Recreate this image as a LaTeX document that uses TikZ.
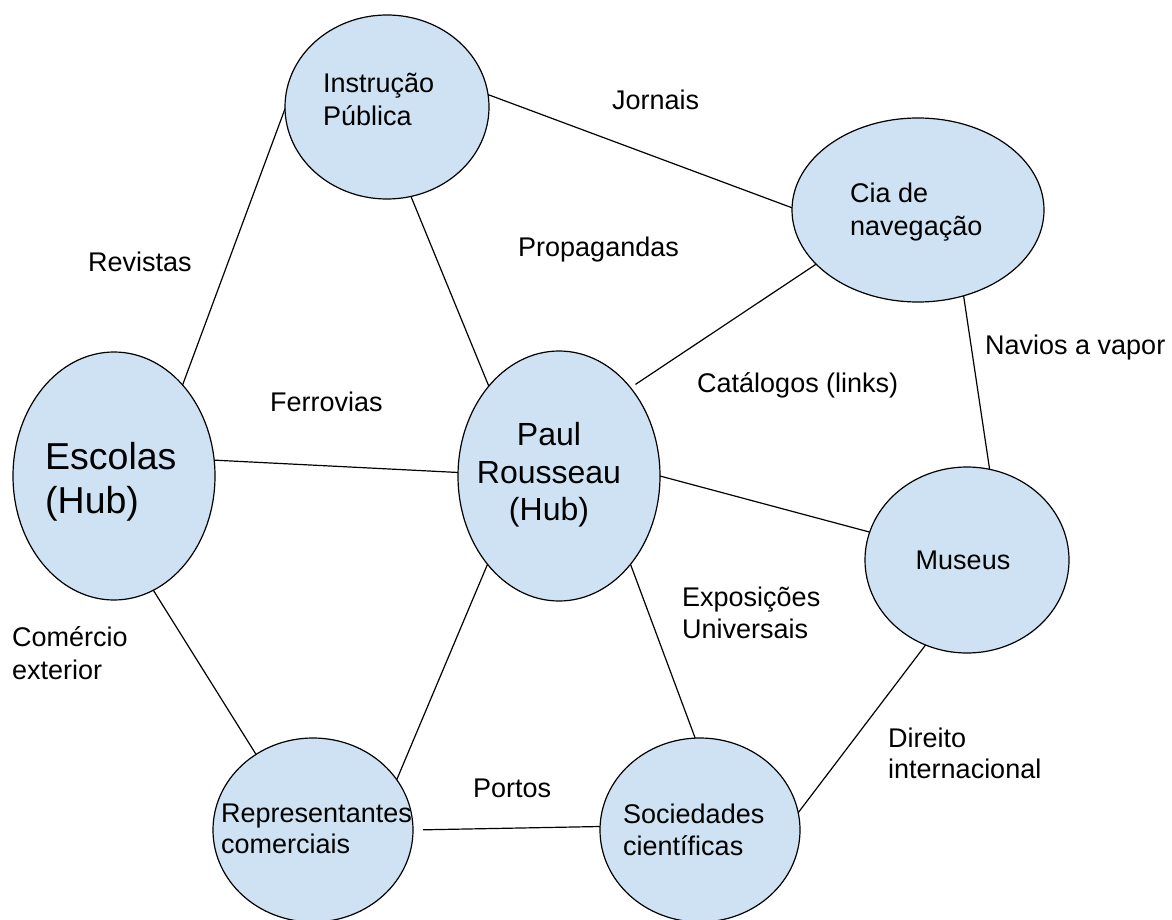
\documentclass[tikz,border=0pt]{standalone}
\usepackage{fontspec}
\setmainfont{Liberation Sans}
\usetikzlibrary{shapes.geometric}
\definecolor{bubble}{HTML}{CFE2F3}
\begin{document}
\begin{tikzpicture}[x=1pt,y=-1pt,
  bub/.style={ellipse, draw=black, fill=bubble, line width=1.2pt, inner sep=0pt, outer sep=0pt},
  conn/.style={draw=black, line width=1.2pt},
  lbl/.style={font=\fontsize{27}{32}\selectfont, inner sep=0pt, text=black},
  big/.style={font=\fontsize{37.5}{44}\selectfont, inner sep=0pt, text=black},
  mid/.style={font=\fontsize{32}{38}\selectfont, inner sep=0pt, text=black}]
\useasboundingbox (0,0) rectangle (1172,920);
\fill[white] (0,0) rectangle (1172,920);

% bubbles
\node[bub, minimum width=204pt, minimum height=184pt] (instr) at (387,107) {};
\node[bub, minimum width=252pt, minimum height=184pt] (cia) at (918,210) {};
\node[bub, minimum width=202pt, minimum height=248pt] (esc) at (114,476) {};
\node[bub, minimum width=202pt, minimum height=250pt] (paul) at (559,476) {};
\node[bub, minimum width=204pt, minimum height=186pt] (mus) at (967,560) {};
\node[bub, minimum width=200pt, minimum height=184pt] (rep) at (313,830) {};
\node[bub, minimum width=200pt, minimum height=184pt] (soc) at (700,830) {};

% connectors
\draw[conn] (esc.53.7) -- (instr.181.7);
\draw[conn] (instr.7.9) -- (cia.179.1);
\draw[conn] (instr.285.9) -- (paul.128.4);
\draw[conn] (esc.9.0) -- (paul.178.3);
\draw[conn] (paul.0.6) -- (mus.164.2);
\draw[conn, shorten <=6pt] (paul.51.1) -- (cia.208.3);
\draw[conn] (cia.298.4) -- (mus.76.7);
\draw[conn] (paul.309.4) -- (soc.93.1);
\draw[conn] (paul.231.0) -- (rep.31.6);
\draw[conn] (esc.289.0) -- (rep.127.3);
\draw[conn, shorten <=10pt] (rep.0.5) -- (soc.178.9);
\draw[conn] (mus.244.2) -- (soc.10.4);

% texts inside bubbles
\node[lbl, anchor=base west] (instr1) at (323,93) {Instrução};
\node[lbl, anchor=base west] (instr2) at (323,126) {Pública};
\node[lbl, anchor=base west] (cia1) at (850,203) {Cia de};
\node[lbl, anchor=base west] (cia2) at (850,236) {navegação};
\node[big, anchor=base west] (esc1) at (45,469) {Escolas};
\node[big, anchor=base west] (esc2) at (45,513) {(Hub)};
\node[mid, anchor=base] (paul1) at (549,445) {Paul};
\node[mid, anchor=base] (paul2) at (549,483) {Rousseau};
\node[mid, anchor=base] (paul3) at (549,520) {(Hub)};
\node[lbl, anchor=base] (mus1) at (963,569) {Museus};
\node[lbl, anchor=base west] (rep1) at (221,822) {Representantes};
\node[lbl, anchor=base west] (rep2) at (221,853) {comerciais};
\node[lbl, anchor=base west] (soc1) at (623,823) {Sociedades};
\node[lbl, anchor=base west] (soc2) at (623,855) {científicas};

% connector labels
\node[lbl, anchor=base west] (lJornais) at (612,110) {Jornais};
\node[lbl, anchor=base west] (lRevistas) at (88,271) {Revistas};
\node[lbl, anchor=base west] (lProp) at (518,256) {Propagandas};
\node[lbl, anchor=base west] (lCat) at (697,392) {Catálogos (links)};
\node[lbl, anchor=base west] (lNavios) at (985,354) {Navios a vapor};
\node[lbl, anchor=base west] (lFerro) at (270,411) {Ferrovias};
\node[lbl, anchor=base west] (lExpo1) at (682,606) {Exposições};
\node[lbl, anchor=base west] (lExpo2) at (682,638) {Universais};
\node[lbl, anchor=base west] (lCom1) at (12,646) {Comércio};
\node[lbl, anchor=base west] (lCom2) at (12,679) {exterior};
\node[lbl, anchor=base west] (lDir1) at (888,747) {Direito};
\node[lbl, anchor=base west] (lDir2) at (888,778) {internacional};
\node[lbl, anchor=base west] (lPortos) at (473,797) {Portos};
\end{tikzpicture}
\end{document}
